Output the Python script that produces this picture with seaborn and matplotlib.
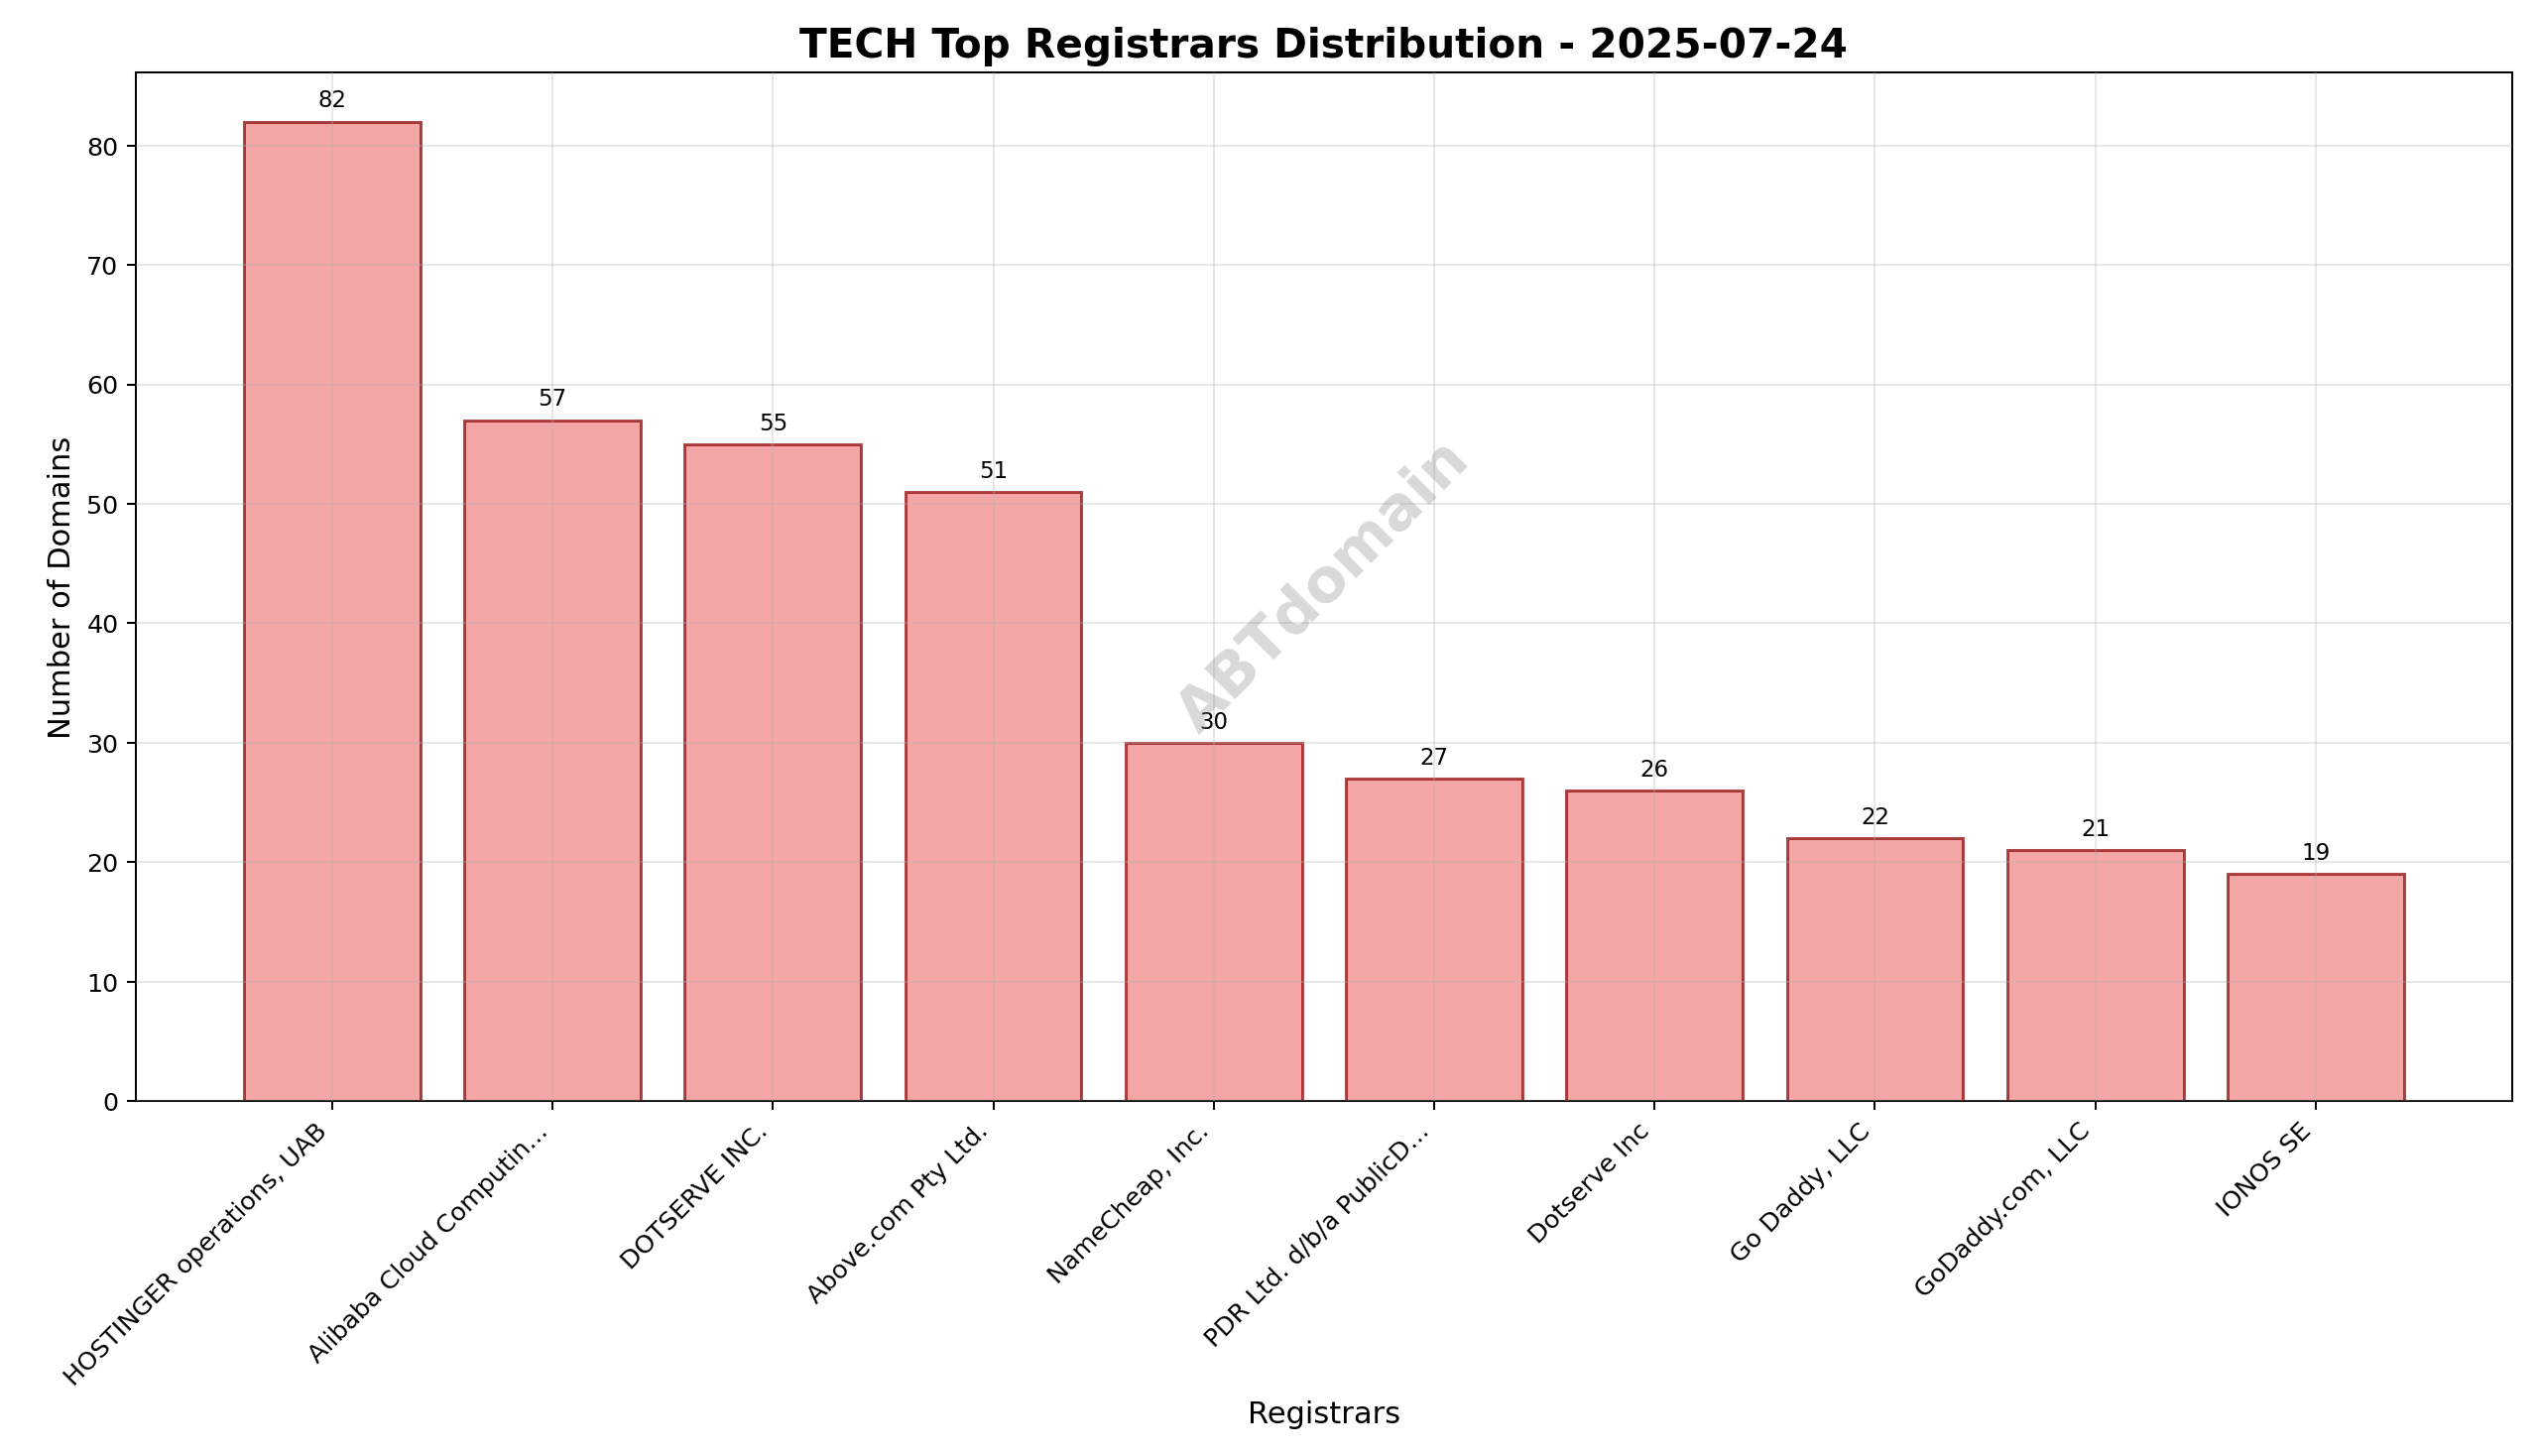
import matplotlib
matplotlib.use("Agg")
import matplotlib.pyplot as plt
import seaborn as sns
import pandas as pd

registrars = ["HOSTINGER operations, UAB", "Alibaba Cloud Computin...", "DOTSERVE INC.",
              "Above.com Pty Ltd.", "NameCheap, Inc.", "PDR Ltd. d/b/a PublicD...",
              "Dotserve Inc", "Go Daddy, LLC", "GoDaddy.com, LLC", "IONOS SE"]
counts = [82, 57, 55, 51, 30, 27, 26, 22, 21, 19]

df = pd.DataFrame({"Registrar": registrars, "Count": counts})

fig, ax = plt.subplots(figsize=(14, 8.03), dpi=182.86)
sns.barplot(data=df, x="Registrar", y="Count", color="lightcoral", alpha=0.7,
            edgecolor="darkred", linewidth=1.2, width=0.8, saturation=1, ax=ax)
for p, v in zip(ax.patches, counts):
    ax.text(p.get_x() + p.get_width() / 2, v + 0.8, str(v), ha="center", va="bottom", fontsize=9)
ax.set_xlim(-0.89, 9.89)
ax.set_ylim(0, 86.1)
ax.set_title("TECH Top Registrars Distribution - 2025-07-24", fontsize=16, fontweight="bold")
ax.set_xlabel("Registrars", fontsize=12)
ax.set_ylabel("Number of Domains", fontsize=12)
ax.grid(True, alpha=0.3)
ax.set_axisbelow(False)
plt.setp(ax.get_xticklabels(), rotation=45, ha="right")
ax.text(0.5, 0.5, "ABTdomain", transform=ax.transAxes, fontsize=24, color="gray",
        alpha=0.3, rotation=45, ha="center", va="center", fontweight="bold")
plt.tight_layout()
fig.savefig("out.png", dpi=182.86)
